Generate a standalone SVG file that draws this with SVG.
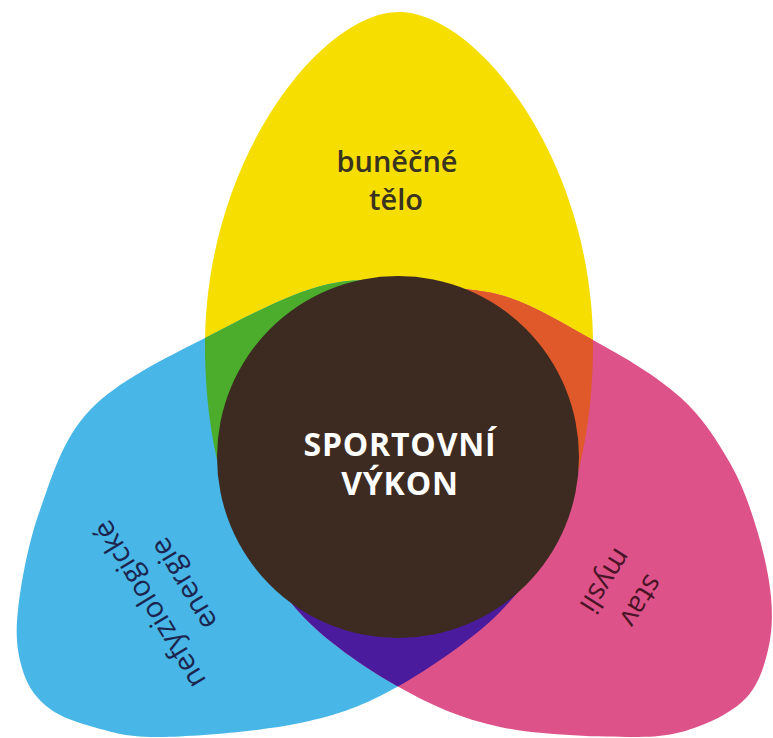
<svg xmlns="http://www.w3.org/2000/svg" width="773" height="738" viewBox="0 0 773 738">
<style>
.lbl{font-family:"Open Sans","Noto Sans","Liberation Sans",sans-serif;font-size:29px;text-anchor:middle}
.ctr{font-family:"Open Sans","Noto Sans","Liberation Sans",sans-serif;font-size:32px;font-weight:700;letter-spacing:0.8px;fill:#ffffff;text-anchor:middle}
</style>
<defs>
<path id="shY" d="M399,12 C477,12 593,160 593,345 C593,430 575,520 530,570 C490,612 440,625 398,625 C358,625 308,612 268,570 C223,520 205,430 205,345 C205,160 321,12 399,12 Z"/>
<path id="shC" d="M205,338 C246.7,316.7 299.2,287.5 340,282 C380.8,276.5 418.3,282 450,305 C481.7,328 515,380.8 530,420 C545,459.2 545,508 540,540 C535,572 523.8,587.5 500,612 C476.2,636.5 430.3,668.5 397,687 C363.7,705.5 339.5,714.7 300,723 C260.5,731.3 195,736.5 160,737 C125,737.5 109.2,731.3 90,726 C70.8,720.7 56.3,714.7 45,705 C33.7,695.3 26.5,683.8 22,668 C17.5,652.2 15,636.3 18,610 C21,583.7 28,543.3 40,510 C52,476.7 62.5,438.7 90,410 C117.5,381.3 163.3,359.3 205,338 Z"/>
<path id="shM" d="M487,292 C522.5,297.8 560.8,322.5 593,340 C625.2,357.5 657.2,376.5 680,397 C702.8,417.5 717.2,440.8 730,463 C742.8,485.2 750.2,507.7 757,530 C763.8,552.3 769.2,577 771,597 C772.8,617 772,633.3 768,650 C764,666.7 758.8,684.2 747,697 C735.2,709.8 716,720.3 697,727 C678,733.7 665.8,737 633,737 C600.2,737 539.3,735.5 500,727 C460.7,718.5 430.3,705 397,686 C363.7,667 323.2,639 300,613 C276.8,587 262.2,563.8 258,530 C253.8,496.2 254.7,447.5 275,410 C295.3,372.5 344.7,324.7 380,305 C415.3,285.3 451.5,286.2 487,292 Z"/>
<clipPath id="clipY"><use href="#shY"/></clipPath>
<clipPath id="clipC"><use href="#shC"/></clipPath>
</defs>
<g id="bunecne-telo">
<use href="#shY" fill="#f6df00"/>
</g>
<g id="nefyziologicke-energie">
<use href="#shC" fill="#48b6e6"/>
</g>
<g id="stav-mysli">
<use href="#shM" fill="#dd5389"/>
</g>
<g id="overlaps">
<use href="#shC" fill="#4bad2b" clip-path="url(#clipY)"/>
<use href="#shM" fill="#e0592b" clip-path="url(#clipY)"/>
<use href="#shM" fill="#4a1c9d" clip-path="url(#clipC)"/>
</g>
<g id="sportovni-vykon">
<circle cx="398" cy="457" r="181" fill="#3d2b21"/>
<text class="ctr" x="400" y="456">SPORTOVNÍ</text>
<text class="ctr" x="400" y="495">VÝKON</text>
</g>
<g id="labels">
<text class="lbl" x="397" y="172" font-weight="600" fill="#3a3320">buněčné</text>
<text class="lbl" x="396" y="210" font-weight="600" fill="#3a3320">tělo</text>
<g transform="translate(168.5,593) rotate(-121)">
<text class="lbl" x="0" y="-12.5" fill="#1b2550">nefyziologické</text>
<text class="lbl" x="0" y="27.5" fill="#1b2550">energie</text>
</g>
<g transform="translate(622,589) rotate(122)">
<text class="lbl" x="0" y="-13" fill="#4a1428">stav</text>
<text class="lbl" x="2" y="28" fill="#4a1428">mysli</text>
</g>
</g>
</svg>
